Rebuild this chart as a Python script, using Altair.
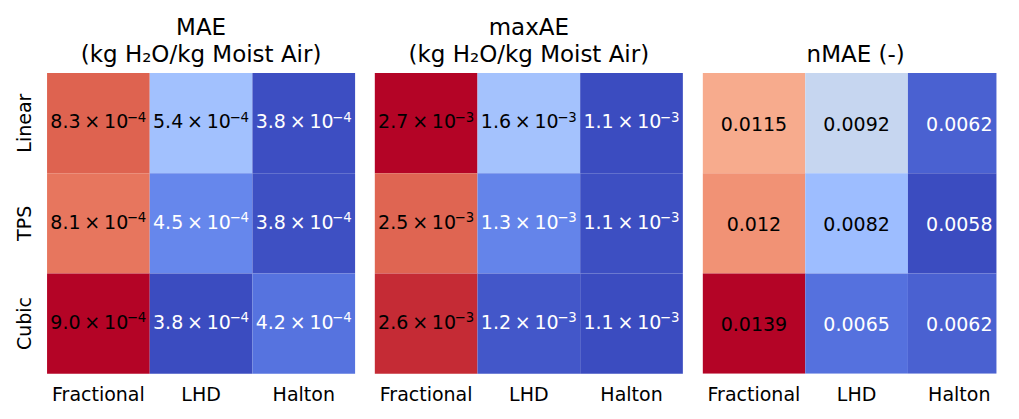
import altair as alt
import pandas as pd
import numpy as np

methods = ["Linear", "TPS", "Cubic"]
designs = ["Fractional", "LHD", "Halton"]

# values per method (rows) x design (columns)
mae = [[8.30e-4, 5.40e-4, 3.80e-4],
       [8.10e-4, 4.50e-4, 3.82e-4],
       [9.00e-4, 3.77e-4, 4.24e-4]]
maxae = [[2.72e-3, 1.63e-3, 1.12e-3],
         [2.50e-3, 1.33e-3, 1.13e-3],
         [2.64e-3, 1.16e-3, 1.12e-3]]
nmae = [[0.0115, 0.0092, 0.0062],
        [0.0120, 0.0082, 0.0058],
        [0.0139, 0.0065, 0.0062]]

titles = [["MAE", "(kg H\u2082O/kg Moist Air)"],
          ["maxAE", "(kg H\u2082O/kg Moist Air)"],
          "nMAE (-)"]

coolwarm = ['#3b4cc0', '#5977e3', '#7b9ff9', '#9ebeff', '#c0d4f5', '#dddcdc',
            '#f2cbb7', '#f7ac8e', '#ee8468', '#d65244', '#b40426']

FONT = "DejaVu Sans"
FS = 19.86
PANEL_W = 321.8
PANEL_H = 314


def split_sci(v):
    e = int(np.floor(np.log10(abs(v))))
    m = v / 10 ** e
    return f"{m:.1f}\u2009\u00d7\u200910", "\u2212" + str(abs(e))


def make_df(mat, sci):
    arr = np.array(mat)
    lo, hi = arr.min(), arr.max()
    rows = []
    for i, m in enumerate(methods):
        for j, d in enumerate(designs):
            v = mat[i][j]
            if sci:
                main, expo = split_sci(v)
            else:
                main, expo = format(v, ".3g"), ""
            rows.append({"method": m, "design": d, "value": v,
                         "main": main, "expo": expo,
                         "norm": (v - lo) / (hi - lo)})
    return pd.DataFrame(rows), lo, hi


def panel(mat, sci, title, show_y, view_w=PANEL_W, clip=False, tdx=0):
    df, lo, hi = make_df(mat, sci)
    stops = list(np.linspace(lo, hi, len(coolwarm)))
    xax = alt.Axis(title=None, domain=False, ticks=False, labelAngle=0,
                   labelFont=FONT, labelFontSize=FS, labelColor="black",
                   labelPadding=12)
    if show_y:
        yax = alt.Axis(title=None, domain=False, ticks=False,
                       labelAngle=-90, labelFont=FONT,
                       labelFontSize=FS, labelColor="black",
                       labelPadding=13.3)
    else:
        yax = None
    base = alt.Chart(df).encode(
        x=alt.X("design:N", sort=designs,
                scale=alt.Scale(paddingInner=0, paddingOuter=0, range=[0, PANEL_W]),
                axis=xax),
        y=alt.Y("method:N", sort=methods,
                scale=alt.Scale(paddingInner=0, paddingOuter=0), axis=yax),
    )
    rect = base.mark_rect(strokeWidth=0, clip=clip).encode(
        color=alt.Color("value:Q", legend=None,
                        scale=alt.Scale(domain=stops, range=coolwarm,
                                        interpolate="rgb"))
    )
    tcolor = alt.condition("datum.norm < 0.25", alt.value("white"), alt.value("black"))
    if sci:
        t1 = base.mark_text(font=FONT, fontSize=FS, align="right", clip=clip,
                            baseline="alphabetic", dx=31.2, dy=5.5).encode(
            text="main:N", color=tcolor)
        t2 = base.mark_text(font=FONT, fontSize=13.9, align="left", clip=clip,
                            baseline="alphabetic", dx=29.6, dy=-1.3).encode(
            text="expo:N", color=tcolor)
        layers = [rect, t1, t2]
    else:
        t1 = base.mark_text(font=FONT, fontSize=FS, align="center", clip=clip,
                            baseline="alphabetic", dy=7.7).encode(
            text="main:N", color=tcolor)
        layers = [rect, t1]
    return alt.layer(*layers).properties(
        width=view_w, height=PANEL_H,
        title=alt.Title(text=title, font=FONT, fontSize=24, fontWeight="normal",
                        color="black", anchor="middle", frame="group",
                        offset=7, lineHeight=27.6, dx=tdx),
    )


chart = alt.hconcat(
    panel(mae, True, titles[0], True),
    panel(maxae, True, titles[1], False),
    panel(nmae, False, titles[2], False, view_w=307, clip=True, tdx=6.4),
    spacing=20.4,
).resolve_scale(color="independent").configure_view(strokeWidth=0).properties(
    padding={"left": 6.8, "top": 0, "right": 0, "bottom": -3},
    background="white",
)

chart.save("out.html", embed_options={"renderer": "svg", "actions": False})
